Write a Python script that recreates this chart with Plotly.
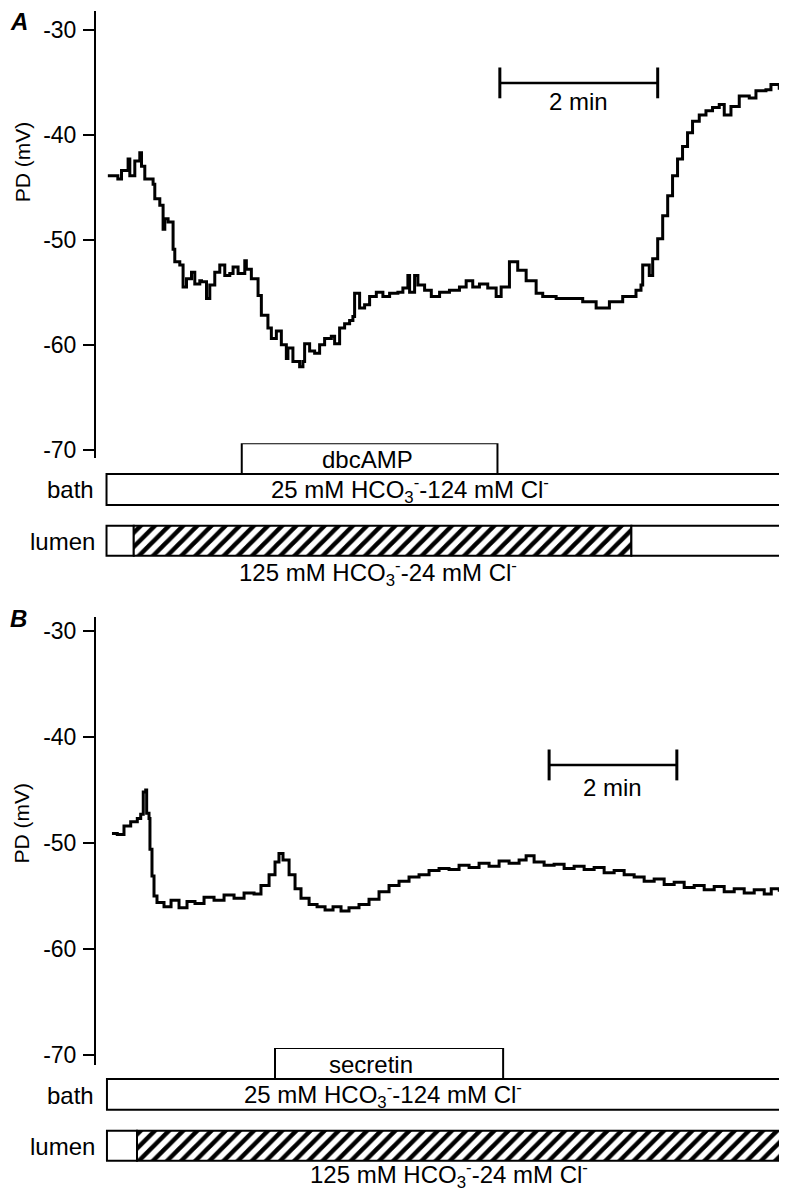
import plotly.graph_objects as go

# ---------------- data ----------------
# Panel A : time (s) and PD (mV)
tA = [0, 7.6, 10.4, 15.4, 16.7, 20.5, 24.3, 25.6, 28.1, 34.4, 35.7, 39.5, 42.0, 43.3, 45.8, 49.6,
      50.9, 54.7, 57.2, 59.8, 63.6, 66.1, 69.9, 71.2, 75.0, 77.5, 81.3, 85.1, 88.9, 92.7, 95.2, 99.0,
      104.1, 105.3, 109.1, 114.2, 116.7, 121.7, 124.3, 128.1, 131.9, 135.7, 136.9, 140.7, 145.8, 148.3,
      149.6, 153.4, 157.2, 161.0, 164.8, 169.9, 172.4, 176.2, 180.0, 183.8, 186.3, 187.6, 191.4, 195.2,
      199.0, 204.1, 209.1, 214.2, 220.5, 224.3, 228.1, 229.4, 233.2, 235.7, 240.8, 245.9, 252.2, 259.7,
      267.3, 272.4, 277.4, 282.5, 288.8, 295.2, 299.0, 305.3, 311.6, 318.0, 325.6, 330.6, 340.8, 350.9,
      361.0, 371.2, 381.3, 391.4, 401.5, 405.3, 406.6, 411.6, 414.2, 418.0, 421.8, 425.6, 429.3, 433.1,
      436.9, 440.7, 444.5, 449.6, 454.7, 459.7, 464.8, 468.6, 473.7, 480.0, 487.6, 492.7, 500.3, 504.1,
      510.4]
vA = [-43.9, -44.2, -43.4, -42.3, -43.9, -42.5, -41.7, -43.0, -44.2, -44.7, -46.1, -46.7, -49.0, -48.0,
      -48.3, -50.9, -52.1, -52.4, -54.5, -53.7, -53.1, -54.2, -53.9, -54.0, -55.6, -54.3, -53.1, -52.4,
      -53.4, -53.2, -52.6, -53.2, -52.0, -52.8, -53.7, -55.3, -57.2, -58.4, -59.4, -58.7, -60.0, -61.3,
      -60.3, -61.6, -62.1, -61.6, -59.9, -60.6, -60.8, -60.0, -59.4, -59.2, -59.9, -58.4, -58.0, -57.7,
      -57.3, -55.1, -56.5, -56.2, -55.4, -55.0, -55.4, -55.1, -55.0, -54.6, -53.4, -55.0, -53.4, -54.3,
      -54.8, -55.4, -55.0, -54.8, -54.5, -53.9, -54.5, -54.2, -54.6, -55.4, -54.5, -52.1, -52.9, -53.9,
      -55.1, -55.4, -55.6, -55.6, -55.9, -56.5, -55.9, -55.4, -54.8, -54.3, -52.4, -53.4, -51.8, -49.9,
      -47.7, -45.8, -43.9, -42.3, -41.1, -39.8, -38.7, -38.1, -37.7, -37.4, -37.1, -38.1, -37.3, -36.3,
      -36.5, -35.8, -35.7, -35.2, -35.7]

# Panel B : time (s) and PD (mV)
tB = [0, 5.0, 11.3, 17.6, 23.8, 27.0, 29.4, 31.7, 32.6, 34.8, 35.7, 37.6, 39.5, 42.3, 48.9, 55.5, 63.0,
      70.5, 78.0, 86.5, 95.9, 105.3, 114.7, 124.1, 133.5, 140.0, 147.6, 153.2, 156.9, 160.7, 166.4, 172.0,
      177.6, 185.2, 192.7, 200.2, 207.7, 215.2, 222.7, 232.1, 241.5, 250.9, 260.3, 269.7, 279.1, 288.5,
      297.9, 307.3, 316.7, 326.1, 335.5, 344.9, 354.3, 363.7, 373.1, 382.5, 389.1, 396.6, 406.0, 415.4,
      424.8, 434.2, 443.6, 453.0, 462.4, 471.8, 481.2, 490.6, 500.0, 509.4, 518.8, 528.2, 537.6, 547.0,
      556.4, 565.8, 575.2, 584.6, 594.0, 603.4, 612.8, 619.4, 626.9]
vB = [-49.1, -49.2, -48.4, -48.0, -47.7, -47.3, -45.2, -45.0, -47.2, -47.7, -50.6, -53.1, -55.0, -55.6,
      -56.0, -55.4, -56.1, -55.5, -55.7, -55.1, -55.4, -54.9, -55.2, -54.7, -54.8, -54.0, -53.0, -51.8,
      -51.0, -51.6, -53.0, -54.3, -55.2, -55.8, -56.0, -56.3, -56.0, -56.4, -56.1, -55.8, -55.3, -54.6,
      -54.0, -53.6, -53.2, -53.0, -52.6, -52.4, -52.5, -52.1, -52.3, -51.9, -52.2, -51.7, -51.9, -51.6,
      -51.2, -51.8, -52.1, -52.0, -52.4, -52.2, -52.5, -52.3, -52.8, -52.6, -53.0, -53.2, -53.6, -53.4,
      -53.9, -53.7, -54.2, -54.0, -54.4, -54.1, -54.6, -54.3, -54.7, -54.4, -54.8, -54.3, -54.6]

# protocol bars: [start, end] in seconds
drugA = [101.8, 296.2]          # dbcAMP
bathA = [-1.0, 511.5]
lumenA_white1 = [-1.0, 19.7]
lumenA_hatch = [19.7, 398.0]
lumenA_white2 = [398.0, 511.5]

drugB = [153.2, 367.5]          # secretin
bathB = [-4.7, 628.0]
lumenB_white1 = [-4.7, 23.5]
lumenB_hatch = [23.5, 628.0]

scaleA = [298.0, 418.0]         # 2 min
scaleB = [410.7, 530.7]         # 2 min
scaleA_level = -35.05
scaleB_level = -42.65

y_ticks = [-70, -60, -50, -40, -30]
y_ticktext = ["-70", "-60", "-50", "-40", "-30"]

# ---------------- layout helpers ----------------
OFF = 8                      # page body margin
W, H = 787 - OFF, 1199 - OFF
FONT = "Liberation Sans, Arial, Helvetica, sans-serif"


def py(p):
    return 1 - (p - OFF) / H


def px(p):
    return (p - OFF) / W


xdom = [px(96), px(782)]

fig = go.Figure()

# traces
fig.add_trace(go.Scatter(x=tA, y=vA, mode="lines", line=dict(color="black", width=3, shape="hv"),
                         xaxis="x", yaxis="y", showlegend=False, hoverinfo="skip"))
fig.add_trace(go.Scatter(x=tB, y=vB, mode="lines", line=dict(color="black", width=3, shape="hv"),
                         xaxis="x2", yaxis="y3", showlegend=False, hoverinfo="skip"))

# scale bars
for xs, lvl, xa, ya in [(scaleA, scaleA_level, "x", "y"), (scaleB, scaleB_level, "x2", "y3")]:
    fig.add_trace(go.Scatter(x=xs, y=[lvl, lvl], mode="lines+markers",
                             line=dict(color="black", width=2.5),
                             marker=dict(symbol="line-ns", size=22, color="black",
                                         line=dict(color="black", width=3)),
                             xaxis=xa, yaxis=ya, showlegend=False, hoverinfo="skip"))

# rows on bar axes (1 unit = 1 pixel, measured from top of bar block)
ROW_DRUG, ROW_BATH, ROW_LUMEN = 15.5, 46.5, 98.0
ROW_W = 31
BAR_SPAN = 142


def hbar(seg, row, xa, ya, hatch=False, width=ROW_W):
    marker = dict(color="white", line=dict(color="black", width=2))
    if hatch:
        marker["pattern"] = dict(shape="/", fgcolor="black", bgcolor="white", size=10,
                                 solidity=0.45, fgopacity=1)
    return go.Bar(orientation="h", y=[row], x=[seg[1] - seg[0]], base=[seg[0]], width=[width],
                  marker=marker, xaxis=xa, yaxis=ya, showlegend=False, hoverinfo="skip")


fig.add_trace(hbar(drugA, ROW_DRUG, "x", "y2"))
fig.add_trace(hbar(bathA, ROW_BATH, "x", "y2"))
fig.add_trace(hbar(lumenA_white1, ROW_LUMEN, "x", "y2", width=30))
fig.add_trace(hbar(lumenA_hatch, ROW_LUMEN, "x", "y2", hatch=True, width=30))
fig.add_trace(hbar(lumenA_white2, ROW_LUMEN, "x", "y2", width=30))

fig.add_trace(hbar(drugB, ROW_DRUG, "x2", "y4"))
fig.add_trace(hbar(bathB, ROW_BATH, "x2", "y4"))
fig.add_trace(hbar(lumenB_white1, ROW_LUMEN, "x2", "y4", width=30))
fig.add_trace(hbar(lumenB_hatch, ROW_LUMEN, "x2", "y4", hatch=True, width=30))

yax_common = dict(showline=True, linecolor="black", linewidth=2, ticks="outside", ticklen=11,
                  tickwidth=2, tickcolor="black", tickvals=y_ticks, ticktext=y_ticktext,
                  tickfont=dict(family=FONT, size=23, color="black"), showgrid=False,
                  zeroline=False, ticklabelstandoff=2)
hidden = dict(visible=False, showgrid=False, zeroline=False)

A_BAR_TOP, B_BAR_TOP = 445, 1052.5

fig.update_layout(
    width=W, height=H, margin=dict(l=0, r=0, t=0, b=0),
    paper_bgcolor="white", plot_bgcolor="rgba(0,0,0,0)",
    barmode="overlay", font=dict(family=FONT, color="black"),
    xaxis=dict(domain=xdom, range=[-9.0, 512.5], anchor="y", **hidden),
    yaxis=dict(domain=[py(460), py(11)], range=[-70.8, -28.2], anchor="x", **yax_common),
    yaxis2=dict(domain=[py(A_BAR_TOP + BAR_SPAN), py(A_BAR_TOP)], range=[BAR_SPAN, 0],
                anchor="x", **hidden),
    xaxis2=dict(domain=xdom, range=[-15.0, 629.5], anchor="y3", **hidden),
    yaxis3=dict(domain=[py(1069), py(620)], range=[-70.87, -28.75], anchor="x2", **yax_common),
    yaxis4=dict(domain=[py(B_BAR_TOP + BAR_SPAN), py(B_BAR_TOP)], range=[BAR_SPAN, 0],
                anchor="x2", **hidden),
)

HCO = "HCO<sub>3</sub><sup>-</sup>"
ann = []


def A(text, x, y, xref, yref, size=24, xanchor="center", **kw):
    ann.append(dict(text=text, x=x, y=y, xref=xref, yref=yref, showarrow=False,
                    font=dict(family=FONT, size=size, color="black"), xanchor=xanchor,
                    yanchor="middle", **kw))


# Panel letters
A("<b><i>A</i></b>", 0, py(22), "paper", "paper", size=24, xanchor="left")
A("<b><i>B</i></b>", 0, py(621), "paper", "paper", size=24, xanchor="left")
# axis titles
A("PD (mV)", px(22), py(163), "paper", "paper", size=21, textangle=-90)
A("PD (mV)", px(22), py(827), "paper", "paper", size=21, textangle=-90)
# scale bar labels
A("2 min", sum(scaleA) / 2, -36.8, "x", "y")
A("2 min", sum(scaleB) / 2, -44.75, "x2", "y3")
# panel A bar labels
A("dbcAMP", 197.5, ROW_DRUG + 1, "x", "y2")
A("25 mM " + HCO + "-124 mM Cl<sup>-</sup>", 229.4, ROW_BATH + 1, "x", "y2")
A("125 mM " + HCO + "-24 mM Cl<sup>-</sup>", 205.0, 130, "x", "y2")
A("bath", px(96), py(492), "paper", "paper", xanchor="right")
A("lumen", px(97), py(544), "paper", "paper", xanchor="right")
# panel B bar labels
A("secretin", 243.4, ROW_DRUG + 1, "x2", "y4")
A("25 mM " + HCO + "-124 mM Cl<sup>-</sup>", 254.7, ROW_BATH + 1, "x2", "y4")
A("125 mM " + HCO + "-24 mM Cl<sup>-</sup>", 316.7, 127, "x2", "y4")
A("bath", px(96), py(1100), "paper", "paper", xanchor="right")
A("lumen", px(97), py(1151), "paper", "paper", xanchor="right")

fig.update_layout(annotations=ann)
fig.write_html("out.html")
